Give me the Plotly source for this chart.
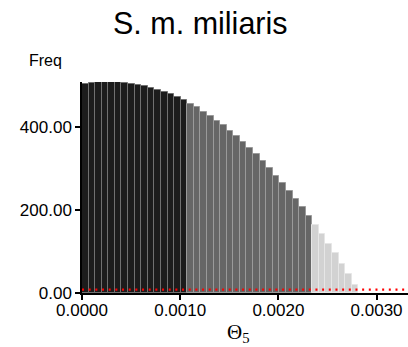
import plotly.graph_objects as go

# Posterior histogram of Theta_5 for S. m. miliaris
bin_width = 0.000067

# frequencies per bin, split by credibility band
freq_inner = [503.6, 506.0, 507.7, 508.4, 508.4, 508.4, 506.7, 504.3,
              501.2, 498.0, 494.0, 489.2, 484.3, 478.8, 472.3, 464.3]
freq_mid = [455.4, 447.5, 436.9, 426.5, 415.2, 404.1, 391.1, 378.3, 363.9,
            348.7, 334.2, 318.1, 300.5, 282.7, 265.1, 246.5, 227.2, 206.5, 185.5]
freq_outer = [163.9, 142.2, 118.1, 95.7, 69.9, 45.1, 18.6]

prior_freq = 8.0
prior_x = [0.0, 0.0034]

x_ticks = [0.0, 0.001, 0.002, 0.003]
y_ticks = [0, 200, 400]

title_text = "S. m. miliaris"
y_label = "Freq"
x_label = "Θ<sub>5</sub>"

# ---- layout geometry (pixels) ----
W, H = 408, 347
L, R, T, B = 82, 0, 82, 54
X_RANGE = [0, 0.00332]
Y_RANGE = [0, 508.4]


def paper_x(px):
    return (px - L) / (W - L - R)


def paper_y(py):
    return (H - B - py) / (H - T - B)


fig = go.Figure()

bands = [
    (freq_inner, "#1c1c1c", "#707070"),
    (freq_mid, "#666666", "#9a9a9a"),
    (freq_outer, "#d2d2d2", "#e6e6e6"),
]
start = 0
for values, fill, edge in bands:
    centers = [(start + i + 0.5) * bin_width for i in range(len(values))]
    fig.add_trace(go.Bar(
        x=centers, y=values, width=bin_width,
        marker=dict(color=fill, line=dict(color=edge, width=1)),
        showlegend=False, hoverinfo="skip",
    ))
    start += len(values)

# prior line lives on the overlay axis that carries the tick labels
fig.add_trace(go.Scatter(
    x=prior_x, y=[prior_freq, prior_freq], mode="lines", xaxis="x2",
    line=dict(color="#ff0000", width=2.2, dash="2px,4.67px"),
    showlegend=False, hoverinfo="skip",
))

tick_font = dict(family="Liberation Sans, Arial, sans-serif", size=17, color="#000")

fig.update_layout(
    width=W, height=H,
    margin=dict(l=L, r=R, t=T, b=B, pad=0),
    paper_bgcolor="white", plot_bgcolor="white",
    bargap=0,
    xaxis=dict(
        range=X_RANGE, tickvals=x_ticks, showticklabels=False,
        showgrid=False, zeroline=False,
        showline=True, linecolor="#000", linewidth=1.5,
        ticks="outside", ticklen=5, tickwidth=1.5, tickcolor="#000",
    ),
    xaxis2=dict(
        range=X_RANGE, matches="x", overlaying="x", anchor="y", side="bottom",
        tickvals=x_ticks, tickformat=".4f",
        ticks="outside", ticklen=2, tickcolor="rgba(0,0,0,0)",
        showgrid=False, zeroline=False, showline=False,
        tickfont=tick_font,
    ),
    yaxis=dict(
        range=Y_RANGE, tickvals=y_ticks, tickformat=".2f",
        showgrid=False, zeroline=False,
        showline=True, linecolor="#000", linewidth=1.5,
        ticks="outside", ticklen=5, tickwidth=1.5, tickcolor="#000",
        tickfont=tick_font,
    ),
    annotations=[
        dict(text=title_text, xref="paper", yref="paper",
             x=paper_x(200), y=paper_y(23), xanchor="center", yanchor="middle",
             showarrow=False,
             font=dict(family="Liberation Sans, Arial, sans-serif", size=30.5, color="#000")),
        dict(text=y_label, xref="paper", yref="paper",
             x=paper_x(45), y=paper_y(60), xanchor="center", yanchor="middle",
             showarrow=False,
             font=dict(family="Liberation Sans, Arial, sans-serif", size=16, color="#000")),
        dict(text=x_label, xref="paper", yref="paper",
             x=paper_x(238), y=paper_y(333), xanchor="center", yanchor="middle",
             showarrow=False,
             font=dict(family="Liberation Serif, Times New Roman, serif", size=21, color="#000")),
    ],
)

fig.write_html("out.html")
